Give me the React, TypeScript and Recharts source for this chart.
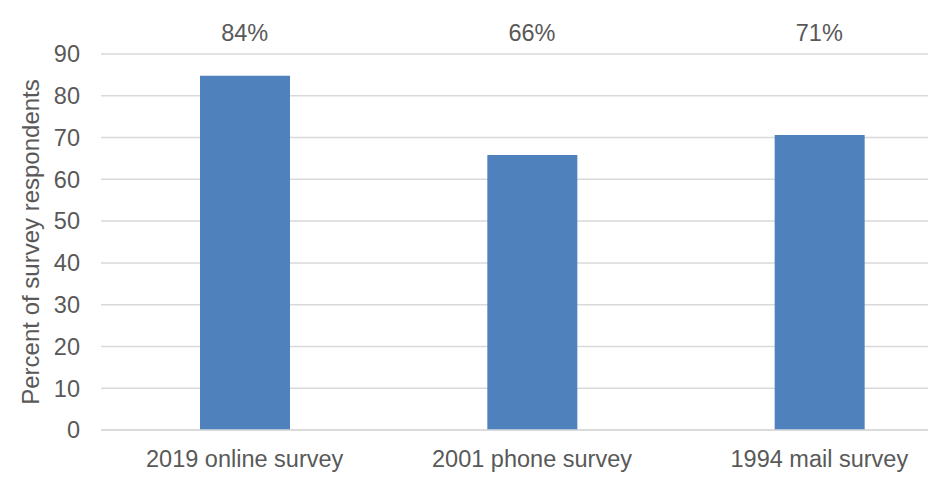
import { BarChart, Bar, XAxis, YAxis, CartesianGrid } from 'recharts'

const surveys = ['2019 online survey', '2001 phone survey', '1994 mail survey']
const percents = [84.8, 65.8, 70.6]
const percentLabels = ['84%', '66%', '71%']
const yTicks = [0, 10, 20, 30, 40, 50, 60, 70, 80, 90]

const data = surveys.map((s, i) => ({ survey: s, value: percents[i] }))

const FONT = '"Liberation Sans", Arial, sans-serif'
const TEXT = '#595959'

const YLabel = ({ viewBox }: any) => {
  const x = viewBox.x + 30
  const y = viewBox.y + viewBox.height / 2
  return (
    <text
      x={x}
      y={y}
      transform={`rotate(-90 ${x} ${y})`}
      textAnchor="middle"
      dominantBaseline="central"
      fill={TEXT}
      fontSize={24}
      fontFamily={FONT}
    >
      Percent of survey respondents
    </text>
  )
}

export default function App() {
  return (
    <div style={{ width: 936, height: 488, overflow: 'hidden', margin: -8, background: '#fff' }}>
      <BarChart
        width={964}
        height={488}
        data={data}
        margin={{ top: 0, right: 1, bottom: 0, left: 0 }}
        style={{ fontFamily: FONT }}
      >
        <CartesianGrid vertical={false} stroke="#d9d9d9" strokeWidth={1.5} />
        <XAxis
          dataKey="survey"
          height={58}
          tickLine={false}
          axisLine={{ stroke: '#d9d9d9', strokeWidth: 1.5 }}
          tick={{ fill: TEXT, fontSize: 23.5 }}
          tickMargin={14}
          interval={0}
        />
        <XAxis
          xAxisId="top"
          dataKey="survey"
          orientation="top"
          height={54}
          tickLine={false}
          axisLine={false}
          tick={{ fill: TEXT, fontSize: 23.5 }}
          tickMargin={7}
          interval={0}
          tickFormatter={(_v: string, i: number) => percentLabels[i]}
        />
        <YAxis
          width={101}
          domain={[0, 90]}
          ticks={yTicks}
          interval={0}
          tickLine={false}
          axisLine={false}
          tick={{ fill: TEXT, fontSize: 23.5 }}
          tickMargin={15}
          label={<YLabel />}
        />
        <Bar dataKey="value" fill="#4f81bd" barSize={90} isAnimationActive={false} />
      </BarChart>
    </div>
  )
}
